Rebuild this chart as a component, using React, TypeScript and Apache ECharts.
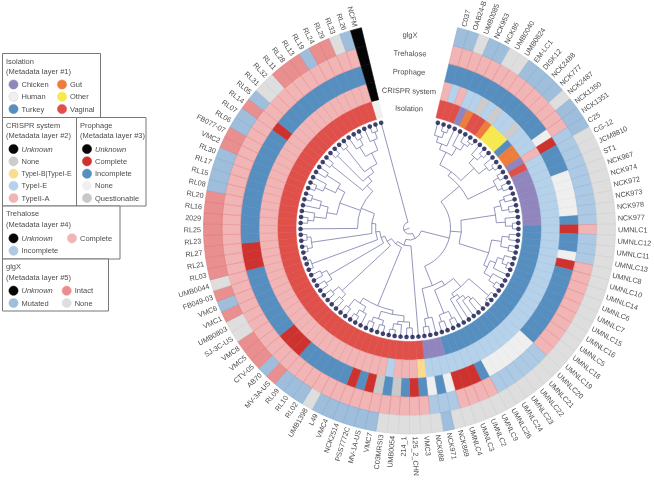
import React, { useEffect, useRef } from "react";
import * as echarts from "echarts";

const leaves = ["C037","OAB24-B","UMB0085","NCK953","NCK86","UMB0040","UMB0824","EM-LC1","DISK12","NCK2488","NCK777","NCK2487","NCK1350","NCK1351","C25","CG-12","JCM8810","ST1","NCK967","NCK974","NCK972","NCK973","NCK978","NCK977","UMNLC1","UMNLC12","UMNLC11","UMNLC13","UMNLC8","UMNLC10","UMNLC14","UMNLC6","UMNLC7","UMNLC15","UMNLC16","UMNLC5","UMNLC18","UMNLC19","UMNLC20","UMNLC21","UMNLC22","UMNLC23","UMNLC24","UMNLC26","UMNLC9","UMNLC2","UMNLC3","UMNLC4","NCK869","NCK971","NCK988","VMC3","125_2_CHN","214_1","UMB0054","C03MRSI3","VMC7","MV-1A-US","PSS7772C","NCK2514","VMC4","L49","UMB1398","RL02","RL10","RL09","MV-3A-US","AB70","CTV-05","VMC5","VMC8","SJ-3C-US","UMB0803","VMC1","VMC6","FB049-03","UMB0044","RL03","RL21","RL27","RL23","RL25","2029","RL16","RL20","RL08","RL15","RL17","RL30","VMC2","FB077-07","RL06","RL07","RL14","RL05","RL31","RL32","RL11","RL28","RL13","RL19","RL24","RL29","RL33","RL26","NCFM"];

// Runs of [category, number of leaves], clockwise from C037
const isolationRuns: [string, number][] = [["vaginal",3],["chicken",1],["gut",1],["vaginal",2],["gut",1],["other",3],["turkey",1],["gut",2],["chicken",1],["vaginal",1],["chicken",8],["turkey",24],["chicken",3],["vaginal",54],["human",1]];
const crisprRuns: [string, number][] = [["t2a",1],["t1e",1],["t2a",1],["t1e",2],["none",1],["t1e",1],["none",1],["t1e",2],["none",1],["t1e",3],["t2a",1],["t1e",36],["t1b",1],["t2a",3],["t1e",1],["t2a",49],["unknown",1]];
const prophageRuns: [string, number][] = [["inc",13],["pnone",1],["comp",1],["inc",3],["pnone",5],["inc",1],["comp",1],["inc",2],["pnone",1],["comp",1],["inc",9],["pnone",6],["inc",1],["comp",3],["pnone",1],["inc",1],["pnone",1],["inc",1],["comp",1],["inc",1],["ques",1],["inc",1],["ques",1],["comp",1],["inc",1],["comp",1],["inc",6],["comp",3],["inc",8],["comp",3],["inc",13],["comp",1],["inc",11],["unknown",1]];
const trehaloseRuns: [string, number][] = [["tc",14],["ti",10],["tc",1],["ti",3],["tc",10],["ti",6],["tc",4],["ti",3],["tc",54],["unknown",1]];
const glgxRuns: [string, number][] = [["gm",2],["gn",1],["gm",2],["gn",2],["gm",4],["gn",1],["gm",3],["gn",34],["gm",1],["gn",6],["gm",6],["gn",1],["gm",3],["gi",1],["gm",1],["gi",3],["gn",2],["gi",1],["gm",1],["gi",1],["gn",1],["gi",8],["gm",4],["gi",2],["gm",2],["gi",1],["gm",1],["gn",2],["gi",3],["gm",1],["gi",2],["gn",1],["gm",1],["unknown",1]];

const ringNames = ["Isolation","CRISPR system","Prophage","Trehalose","glgX"];

// Tree: [node radius, ...children]; a number child is a leaf index
type T = any;
const clade14: T = [96,[102,14,15],[101,16,17]];
const clade0: T = [70,[84,[90,[96,0,[102,1,2]],3],[93,4,[100,5,[104,6,7]]]],[88,[96,8,[102,9,10]],[98,11,[103,12,13]]]];
const cladeA: T = [65,clade0,clade14];
const cladeX: T = [87,[94,[99,18,19],[101,20,21]],[96,22,[103,23,24]]];
const cladeY: T = [83,[93,[100,25,26],[101,27,28]],[87,[93,[99,29,[104,30,31]],32],[95,33,[102,34,35]]]];
const cladeB: T = [52,cladeX,cladeY];
const cladeH: T = [78,[104,36,[106,37,38]],[82,43,[86,42,[90,41,[94,40,39]]]]];
const cladeF: T = [67,[92,[100,44,45],[99,46,47]],cladeH];
const cladeC: T = [62,[92,48,[100,49,50]],cladeF];
const cladeN: T = [41,cladeA,cladeB,cladeC];
const cladeS: T = [84,[88,[94,[100,52,53],[97,54,[103,55,56]]],[96,[101,57,58],[101,59,60]]],[90,[96,61,[102,62,63]],[100,64,65]]];
const cladeT: T = [92,[98,66,67],[100,68,69]];
const cladeT2: T = [93,[100,70,71],[99,72,73]];
const cladeU: T = [104,74,[107,75,76]];
const cladeV: T = [99,[104,77,78],[103,79,80]];
const cladeQ: T = [74,[84,[96,[102,82,83],84],[92,85,[102,86,87]]],[82,[94,[102,88,89],90],[98,91,92]]];
const cladeP: T = [60,[100,93,94],[66,[102,95,96],[72,[102,97,98],[84,[95,99,[102,100,101]],[95,102,[102,103,104]]]]]];
const tree: T = [6,105,[12,cladeN,[18,51,[21,cladeS,[26,cladeT,[30,cladeT2,[34,cladeU,[38,cladeV,[52,81,cladeQ,cladeP]]]]]]]]];

const palette: Record<string, [string, string]> = {
  vaginal: ["#e0504a", "#e0504a"], chicken: ["#9085bd", "#9085bd"], gut: ["#ec7d3c", "#ec7d3c"], other: ["#f6e84e", "#f6e84e"], turkey: ["#558ebf", "#558ebf"], human: ["#f0f0ee", "#f0f0ee"],
  unknown: ["#050505", "#050505"], none: ["#cccccc", "#c4c4c4"], t1b: ["#fbdc8e", "#fbdc8e"], t1e: ["#b6d1ea", "#a6c5e2"], t2a: ["#f1b5b6", "#e89a9c"],
  comp: ["#cd322f", "#cd322f"], inc: ["#558ebf", "#558ebf"], pnone: ["#efefef", "#e6e6e6"], ques: ["#c8c8c8", "#c8c8c8"],
  tc: ["#f1b5b6", "#e58f91"], ti: ["#adc9e3", "#94b8da"],
  gi: ["#e98f8f", "#de7a7b"], gm: ["#9fbedb", "#86acd0"], gn: ["#dedede", "#d0d0d0"],
};

const ringEdges = [113.5, 132, 150.5, 169, 187.5, 206];
const gapStart = 13.5;
const step = 333 / leaves.length;
const leafRadius = 109;
const labelRadius = 208.5;
const FONT = '"Liberation Sans", Arial, sans-serif';
const lineColor = "#65689e";
const textColor = "#4d4d4d";

const expand = (runs: [string, number][]) => runs.flatMap(([c, n]) => Array(n).fill(c));
const rings = [isolationRuns, crisprRuns, prophageRuns, trehaloseRuns, glgxRuns].map(expand);
const leafAngle = (i: number) => gapStart + step * (i + 0.5);
const rad = (a: number) => ((a - 90) * Math.PI) / 180;

type Seg = [number, number, number, number, number];
function flatten(node: T, out: Seg[]): number {
  const r = node[0];
  const angles: number[] = [];
  for (const ch of node.slice(1)) {
    if (typeof ch === "number") {
      const a = leafAngle(ch);
      out.push([0, r, leafRadius, a, a]);
      angles.push(a);
    } else {
      const a = flatten(ch, out);
      out.push([0, r, ch[0], a, a]);
      angles.push(a);
    }
  }
  const lo = Math.min(...angles), hi = Math.max(...angles);
  out.push([1, r, r, lo, hi]);
  return (lo + hi) / 2;
}

const ringData: number[][] = [];
rings.forEach((ring, ri) => ring.forEach((_, li) => ringData.push([ri, li])));
const treeSegs: Seg[] = [];
const rootAngle = flatten(tree, treeSegs);
treeSegs.push([0, 0, tree[0], rootAngle, rootAngle]);

function legendBox(x: number, y: number, w: number, h: number, title: string, sub: string, items: any[]) {
  const ch: any[] = [
    { type: "rect", shape: { x, y, width: w, height: h }, style: { fill: "#fff", stroke: "#777", lineWidth: 1 } },
    { type: "text", x: x + 3.5, y: y + 7.7, style: { text: title, fontSize: 7.5, fontFamily: FONT, fill: textColor, verticalAlign: "middle" } },
    { type: "text", x: x + 3.5, y: y + 18.2, style: { text: sub, fontSize: 7.5, fontFamily: FONT, fill: textColor, verticalAlign: "middle" } },
  ];
  for (const [cx, cy, color, label, italic, size] of items) {
    ch.push({ type: "circle", shape: { cx, cy, r: 4.6 }, style: { fill: color, stroke: color === "#f0f0ee" ? "#cfcfcf" : color, lineWidth: 0.5 } });
    ch.push({ type: "text", x: cx + 8, y: cy, style: { text: label, fontSize: size || 7.5, fontFamily: FONT, fill: textColor, fontStyle: italic ? "italic" : "normal", verticalAlign: "middle" } });
  }
  return { type: "group", children: ch };
}

export default function App() {
  const ref = useRef<HTMLDivElement>(null);
  useEffect(() => {
    const chart = echarts.init(ref.current!, undefined, { renderer: "svg" });
    const ringLabelPos = [[409, 108.5], [409, 91], [409, 72], [410, 53.5], [410, 35]];
    chart.setOption({
      animation: false,
      polar: { center: [409.5, 228], radius: [0, 206] },
      angleAxis: { type: "value", min: 0, max: 360, startAngle: 90, clockwise: true, show: false },
      radiusAxis: { type: "value", min: 0, max: 206, show: false },
      series: [
        {
          type: "custom", coordinateSystem: "polar", clip: false, z: 2, data: ringData,
          renderItem: (_: any, api: any) => {
            const ri = api.value(0), li = api.value(1);
            const c = api.coord([0, 0]);
            const p0 = api.coord([ringEdges[ri], 0]);
            const p1 = api.coord([ringEdges[ri + 1], 0]);
            const [fill, stroke] = palette[rings[ri][li]];
            const a0 = gapStart + step * li;
            return {
              type: "sector",
              shape: { cx: c[0], cy: c[1], r0: Math.hypot(p0[0] - c[0], p0[1] - c[1]), r: Math.hypot(p1[0] - c[0], p1[1] - c[1]), startAngle: rad(a0), endAngle: rad(a0 + step), clockwise: true },
              style: { fill, stroke, lineWidth: 0.6 },
            };
          },
        },
        {
          type: "custom", coordinateSystem: "polar", clip: false, z: 3, data: treeSegs,
          renderItem: (_: any, api: any) => {
            const kind = api.value(0), r0 = api.value(1), r1 = api.value(2), a0 = api.value(3), a1 = api.value(4);
            if (kind === 0) {
              const p = api.coord([r0, a0]), q = api.coord([r1, a0]);
              return { type: "line", shape: { x1: p[0], y1: p[1], x2: q[0], y2: q[1] }, style: { stroke: lineColor, lineWidth: 0.7, fill: "none" } };
            }
            const c = api.coord([0, 0]), p = api.coord([r0, a0]);
            return { type: "arc", shape: { cx: c[0], cy: c[1], r: Math.hypot(p[0] - c[0], p[1] - c[1]), startAngle: rad(a0), endAngle: rad(a1), clockwise: true }, style: { stroke: lineColor, lineWidth: 0.7, fill: "none" } };
          },
        },
        {
          type: "scatter", coordinateSystem: "polar", z: 4, symbol: "circle", symbolSize: 4.6,
          itemStyle: { color: "#12164a" }, silent: true,
          data: leaves.map((_, i) => [leafRadius, leafAngle(i)]),
        },
        {
          type: "custom", coordinateSystem: "polar", clip: false, z: 5, data: leaves.map((_, i) => [i]),
          renderItem: (_: any, api: any) => {
            const i = api.value(0);
            const a = leafAngle(i);
            const p = api.coord([labelRadius, a]);
            const theta = rad(a);
            const right = a < 180;
            return {
              type: "text", x: p[0], y: p[1], rotation: right ? -theta : -(theta - Math.PI),
              style: { text: leaves[i], align: right ? "left" : "right", verticalAlign: "middle", fontSize: 7.2, fontFamily: FONT, fill: textColor },
            };
          },
        },
      ],
      graphic: [
        legendBox(2.5, 53.5, 98, 64, "Isolation", "(Metadata layer #1)", [
          [13.5, 84.5, "#9085bd", "Chicken"], [62, 84.5, "#ec7d3c", "Gut"],
          [13.5, 96.7, "#f0f0ee", "Human"], [62, 96.7, "#f6e84e", "Other"],
          [13.5, 109, "#558ebf", "Turkey"], [62, 109, "#e0504a", "Vaginal"],
        ]),
        legendBox(2.5, 117.5, 74, 88.5, "CRISPR system", "(Metadata layer #2)", [
          [13.5, 149, "#050505", "Unknown", true], [13.5, 161.3, "#cccccc", "None"], [13.5, 173.7, "#fbdc8e", "TypeI-B|TypeI-E", false, 7],
          [13.5, 185.8, "#b6d1ea", "TypeI-E"], [13.5, 198, "#f1b5b6", "TypeII-A"],
        ]),
        legendBox(76.5, 117.5, 69.5, 88.5, "Prophage", "(Metadata layer #3)", [
          [87, 149, "#050505", "Unknown", true], [87, 161.3, "#cd322f", "Complete"], [87, 173.7, "#558ebf", "Incomplete"],
          [87, 185.8, "#efefef", "None"], [87, 198, "#c8c8c8", "Questionable"],
        ]),
        legendBox(2.5, 206, 117.5, 53, "Trehalose", "(Metadata layer #4)", [
          [13.5, 238.3, "#050505", "Unknown", true], [72, 238.3, "#f1b5b6", "Complete"], [13.5, 250.7, "#adc9e3", "Incomplete"],
        ]),
        legendBox(2.5, 259, 106, 52, "glgX", "(Metadata layer #5)", [
          [13.5, 290.7, "#050505", "Unknown", true], [66.7, 290.7, "#e98f8f", "Intact"],
          [13.5, 303, "#9fbedb", "Mutated"], [66.7, 303, "#dedede", "None"],
        ]),
        ...ringNames.map((name, i) => ({
          type: "text", x: ringLabelPos[i][0], y: ringLabelPos[i][1], rotation: -0.03,
          style: { text: name, align: "center", verticalAlign: "middle", fontSize: 7.5, fontFamily: FONT, fill: textColor },
        })),
      ],
    });
    return () => chart.dispose();
  }, []);
  return <div ref={ref} style={{ position: "fixed", left: 0, top: 0, width: 654, height: 481, willChange: "transform" }} />;
}
